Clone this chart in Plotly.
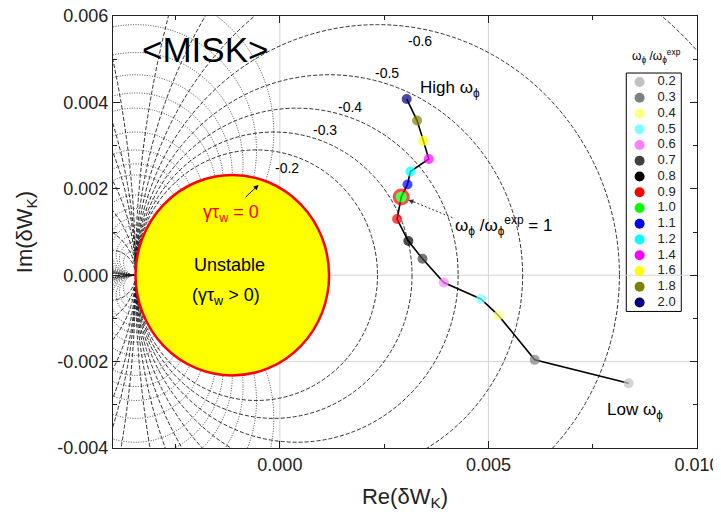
import plotly.graph_objects as go

# ---------------- data ----------------
RATIO = ["0.2", "0.3", "0.4", "0.5", "0.6", "0.7", "0.8", "0.9", "1.0",
         "1.1", "1.2", "1.4", "1.6", "1.8", "2.0"]
RE_DWK = [0.00836, 0.00611, 0.00524, 0.00482, 0.00393, 0.00342, 0.00308,
          0.00281, 0.00291, 0.00306, 0.00313, 0.00357, 0.00344, 0.00329, 0.00304]
IM_DWK = [-0.00250, -0.00196, -0.00093, -0.00055, -0.00017, 0.00038, 0.00079,
          0.00130, 0.00181, 0.00210, 0.00240, 0.00269, 0.00311, 0.00358, 0.00408]
COLORS = ["#c0c0c0", "#808080", "#ffff80", "#80ffff", "#ff80ff", "#404040",
          "#000000", "#ff0000", "#00ff00", "#0000ff", "#00ffff", "#ff00ff",
          "#ffff00", "#808000", "#000080"]

X_TICKS = [0.0, 0.005, 0.010]
X_TICK_TEXT = ["0.000", "0.005", "0.010"]
Y_TICKS = [-0.004, -0.002, 0.0, 0.002, 0.004, 0.006]
Y_TICK_TEXT = ["-0.004", "-0.002", "0.000", "0.002", "0.004", "0.006"]

# contour family (growth rate / rotation contours of the dispersion relation)
POLE_RE = -0.00346          # point where all contours meet
R_MARGINAL = 0.00232        # radius of the gamma*tau_w = 0 circle
GAMMA_LEVELS = [-0.2, -0.3, -0.4, -0.5, -0.6, -0.7, -0.8, -0.9,
                -1.1, -1.2, -1.3, -1.5, -2.0, -3.0, -5.0]
OMEGA_LEVELS = [0.7, 0.8, 0.9, 1.0, 1.1, 1.2, 1.4, 1.6, 1.8, 2.0, 2.5, 3.0,
                3.5, 4.0, 5.0, 6.0, 8.0]
GAMMA_LABELS = ["-0.2", "-0.3", "-0.4", "-0.5", "-0.6"]
GAMMA_LABEL_X = [0.00016, 0.00109, 0.00169, 0.00258, 0.00337]
GAMMA_LABEL_Y = [0.00249, 0.00337, 0.00390, 0.00469, 0.00541]

GRID_X = [0.0, 0.005]
GRID_Y = [0.0, -0.002]

FONT = "Arial, Liberation Sans, sans-serif"

fig = go.Figure()

# ---------------- shapes ----------------
shapes = []
for gx in GRID_X:
    shapes.append(dict(type="line", xref="x", yref="y", x0=gx, x1=gx, y0=-0.004, y1=0.006,
                       line=dict(color="#d4d4d4", width=1), layer="below"))
for gy in GRID_Y:
    shapes.append(dict(type="line", xref="x", yref="y", x0=-0.004, x1=0.010, y0=gy, y1=gy,
                       line=dict(color="#d4d4d4", width=1), layer="below"))

for g in GAMMA_LEVELS:
    R = R_MARGINAL / (1.0 + g)
    c = POLE_RE + R
    shapes.append(dict(type="circle", xref="x", yref="y",
                       x0=c - abs(R), x1=c + abs(R), y0=-abs(R), y1=abs(R),
                       line=dict(color="#1a1a1a", width=0.9, dash="4px,2px"),
                       layer="below"))
for w in OMEGA_LEVELS:
    r = R_MARGINAL / w
    for s in (1, -1):
        shapes.append(dict(type="circle", xref="x", yref="y",
                           x0=POLE_RE - r, x1=POLE_RE + r, y0=s * r - r, y1=s * r + r,
                           line=dict(color="#1a1a1a", width=0.8, dash="1px,1.5px"),
                           layer="below"))

# unstable region gamma*tau_w = 0
shapes.append(dict(type="circle", xref="x", yref="y",
                   x0=POLE_RE, x1=POLE_RE + 2 * R_MARGINAL, y0=-R_MARGINAL, y1=R_MARGINAL,
                   fillcolor="#ffff00", line=dict(color="#ff0000", width=2.5), layer="below"))

# legend box
shapes.append(dict(type="rect", xref="paper", yref="paper",
                   x0=0.8789, x1=0.9731, y0=0.3161, y1=0.868,
                   fillcolor="white", line=dict(color="black", width=1), layer="below"))

# dotted pointer to the experimental rotation point
shapes.append(dict(type="line", xref="x", yref="y", x0=0.00414, y0=0.00133,
                   x1=0.00318, y1=0.00171,
                   line=dict(color="#333", width=1, dash="2px,2px")))

# ---------------- traces ----------------
fig.add_trace(go.Scatter(x=RE_DWK, y=IM_DWK, mode="lines",
                         line=dict(color="black", width=1.6),
                         showlegend=False, hoverinfo="skip"))
line_w = [3 if r == "1.0" else 0 for r in RATIO]
sizes = [14 if r == "1.0" else 10 for r in RATIO]
fig.add_trace(go.Scatter(x=RE_DWK, y=IM_DWK, mode="markers",
                         marker=dict(color=COLORS, size=sizes,
                                     line=dict(color="#ff0000", width=line_w)),
                         showlegend=False, hoverinfo="skip"))

# manual legend on an overlay axis (fractions of the plot area)
LEG_TOP = 0.8471
LEG_STEP = 0.03645
leg_y = [LEG_TOP - i * LEG_STEP for i in range(len(RATIO))]
fig.add_trace(go.Scatter(x=[0.9017] * len(RATIO), y=leg_y, mode="markers",
                         marker=dict(color=COLORS, size=10),
                         xaxis="x2", yaxis="y2", showlegend=False, hoverinfo="skip"))
fig.add_trace(go.Scatter(x=[0.948] * len(RATIO), y=leg_y, mode="text", text=RATIO,
                         textposition="middle center",
                         textfont=dict(family=FONT, size=13, color="#222"),
                         xaxis="x2", yaxis="y2", showlegend=False, hoverinfo="skip"))

# ---------------- annotations ----------------
ann = []
for t, lx, ly in zip(GAMMA_LABELS, GAMMA_LABEL_X, GAMMA_LABEL_Y):
    ann.append(dict(x=lx, y=ly, xref="x", yref="y", text=t, showarrow=False,
                    font=dict(family=FONT, size=14, color="black")))
ann += [
    dict(x=-0.0018, y=0.00522, xref="x", yref="y", text="&lt;MISK&gt;", showarrow=False,
         font=dict(family=FONT, size=35, color="black")),
    dict(x=0.00332, y=0.00432, xref="x", yref="y", xanchor="left", text="High ω<sub>ϕ</sub>",
         showarrow=False, font=dict(family=FONT, size=17, color="black")),
    dict(x=0.00416, y=0.00114, xref="x", yref="y", xanchor="left",
         text="ω<sub>ϕ</sub> /ω<sub>ϕ</sub><sup>exp</sup> = 1",
         showarrow=False, font=dict(family=FONT, size=17, color="black")),
    dict(x=0.0078, y=-0.00314, xref="x", yref="y", xanchor="left", text="Low ω<sub>ϕ</sub>",
         showarrow=False, font=dict(family=FONT, size=17, color="black")),
    dict(x=-0.00116, y=0.00142, xref="x", yref="y", text="γτ<sub>w</sub> = 0",
         showarrow=False, font=dict(family=FONT, size=18, color="#ff0000")),
    dict(x=-0.0012, y=0.00024, xref="x", yref="y", text="Unstable",
         showarrow=False, font=dict(family=FONT, size=18, color="black")),
    dict(x=-0.0013, y=-0.0005, xref="x", yref="y", text="(γτ<sub>w</sub> &gt; 0)",
         showarrow=False, font=dict(family=FONT, size=18, color="black")),
    dict(x=-0.00051, y=0.00209, xref="x", yref="y", text=" ", showarrow=True,
         ax=-16, ay=15, arrowhead=2, arrowsize=1, arrowwidth=1, arrowcolor="black"),
    dict(x=0.00308, y=0.00174, xref="x", yref="y", text=" ", showarrow=True,
         ax=9, ay=3.5, arrowhead=2, arrowsize=1, arrowwidth=1, arrowcolor="#333"),
    dict(x=0.976, y=0.881, xref="paper", yref="paper", xanchor="right", yanchor="bottom",
         text="ω<sub>ϕ</sub> /ω<sub>ϕ</sub><sup>exp</sup>", showarrow=False,
         font=dict(family=FONT, size=12, color="black")),
]

axis_common = dict(showline=True, linecolor="#222", linewidth=1.2, mirror="ticks",
                   ticks="inside", ticklen=7, tickcolor="#222", tickwidth=1,
                   showgrid=False, zeroline=False, automargin=False,
                   ticklabeloverflow="allow",
                   tickfont=dict(family=FONT, size=18, color="#222"),
                   tickmode="array")

# the page body adds an 8px offset, so the figure is sized to fit the 721x518 window
fig.update_layout(
    width=713, height=510,
    margin=dict(l=105, r=24, t=8, b=70),
    paper_bgcolor="white", plot_bgcolor="white",
    showlegend=False,
    shapes=shapes, annotations=ann,
    xaxis=dict(range=[-0.004, 0.010], tickvals=X_TICKS, ticktext=X_TICK_TEXT,
               minor=dict(dtick=0.0025, tick0=0, ticks="inside", ticklen=4, tickcolor="#222"),
               title=dict(text="Re(δW<sub>K</sub>)", standoff=14,
                          font=dict(family=FONT, size=22, color="#222")),
               **axis_common),
    yaxis=dict(range=[-0.004, 0.006], tickvals=Y_TICKS, ticktext=Y_TICK_TEXT,
               minor=dict(dtick=0.001, tick0=0, ticks="inside", ticklen=4, tickcolor="#222"),
               title=dict(text="Im(δW<sub>K</sub>)", standoff=18,
                          font=dict(family=FONT, size=22, color="#222")),
               **axis_common),
    xaxis2=dict(overlaying="x", range=[0, 1], visible=False, anchor="y2"),
    yaxis2=dict(overlaying="y", range=[0, 1], visible=False, anchor="x2"),
)

fig.write_html("out.html")
